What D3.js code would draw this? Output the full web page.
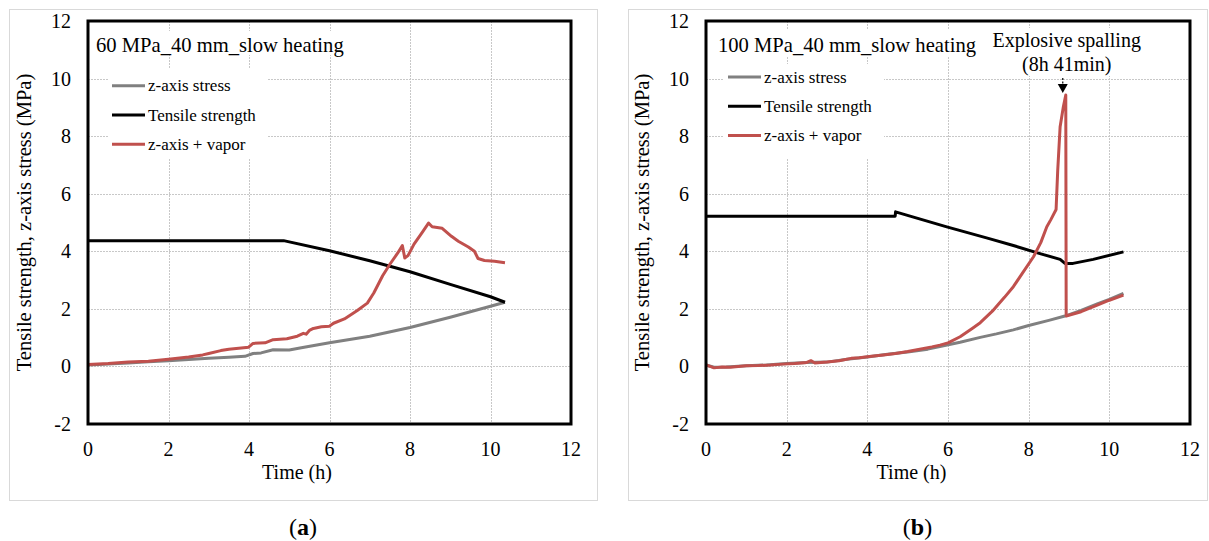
<!DOCTYPE html>
<html>
<head>
<meta charset="utf-8">
<script src="https://cdn.jsdelivr.net/npm/d3@7"></script>
<style>
  body { margin: 0; background: #fff; }
  svg { display: block; }
  text { font-family: "Liberation Serif", "Times New Roman", serif; fill: #000; }
</style>
</head>
<body>
<svg id="chart" width="1209" height="541"></svg>
<script>
// ---- data ----
const xTicks = [0, 2, 4, 6, 8, 10, 12];
const yTicks = [-2, 0, 2, 4, 6, 8, 10, 12];
const seriesNames = ["z-axis stress", "Tensile strength", "z-axis + vapor"];
const seriesColors = ["#808080", "#000000", "#c0504d"];

// (a) 60 MPa
const stressA = [[0,0.05],[0.5,0.08],[1,0.12],[1.5,0.16],[2,0.2],[2.5,0.24],[3,0.28],[3.5,0.32],[3.9,0.35],
  [4.1,0.45],[4.3,0.47],[4.6,0.58],[5.0,0.57],[5.3,0.65],[6,0.82],[7,1.05],[8,1.35],[9,1.71],[10,2.09],[10.36,2.23]];
const strengthA = [[0,4.37],[4.86,4.37],[6,4.02],[7,3.67],[8,3.29],[9,2.85],[10,2.42],[10.36,2.23]];
const vaporA = [[0,0.07],[0.5,0.1],[1,0.15],[1.5,0.18],[2,0.25],[2.5,0.33],[2.85,0.4],[3,0.45],[3.3,0.55],[3.5,0.6],
  [3.99,0.67],[4.1,0.8],[4.4,0.82],[4.6,0.93],[4.94,0.96],[5.2,1.05],[5.35,1.15],[5.42,1.12],[5.5,1.25],[5.6,1.32],[5.8,1.38],[6.0,1.4],
  [6.1,1.5],[6.37,1.65],[6.7,1.95],[6.94,2.2],[7.1,2.55],[7.32,3.15],[7.5,3.55],[7.7,3.95],[7.81,4.2],[7.87,3.77],
  [7.95,3.85],[8.1,4.25],[8.3,4.65],[8.46,4.98],[8.55,4.85],[8.8,4.8],[9.03,4.52],[9.2,4.35],[9.45,4.15],[9.6,4.0],
  [9.69,3.75],[9.85,3.68],[10.1,3.65],[10.36,3.6]];

// (b) 100 MPa
const stressB = [[0,0.05],[0.2,-0.03],[0.5,-0.02],[1,0.02],[1.5,0.05],[2,0.1],[2.5,0.14],[3,0.15],[3.5,0.25],[4,0.33],
  [4.5,0.42],[5,0.5],[5.5,0.6],[5.8,0.69],[6.3,0.84],[6.8,1.01],[7.2,1.13],[7.62,1.27],[8.0,1.42],[8.5,1.6],
  [8.9,1.75],[9.3,1.95],[9.7,2.17],[10.0,2.33],[10.35,2.54]];
const strengthB = [[0,5.22],[4.69,5.22],[4.7,5.37],[5.97,4.85],[7.0,4.45],[7.62,4.2],[8.28,3.92],[8.78,3.72],
  [8.9,3.58],[9.1,3.58],[9.6,3.72],[10.35,3.98]];
const vaporB = [[0,0.05],[0.1,0.0],[0.2,-0.05],[0.4,-0.02],[0.6,-0.03],[0.8,0.0],[1.0,0.02],[1.3,0.03],[1.6,0.05],
  [1.9,0.08],[2.2,0.1],[2.5,0.14],[2.6,0.2],[2.7,0.12],[3.0,0.15],[3.3,0.2],[3.6,0.28],[3.8,0.3],[4.1,0.35],
  [4.4,0.4],[4.7,0.45],[5.0,0.52],[5.3,0.6],[5.6,0.68],[5.8,0.74],[6.0,0.82],[6.3,1.03],[6.6,1.32],[6.8,1.52],
  [7.1,1.92],[7.4,2.4],[7.62,2.77],[7.85,3.25],[8.12,3.81],[8.3,4.3],[8.45,4.85],[8.55,5.1],[8.68,5.45],
  [8.72,6.8],[8.78,8.33],[8.86,9.02],[8.92,9.43],[8.93,1.75],[9.3,1.9],[9.7,2.13],[10.0,2.3],[10.35,2.48]];

const panelTitles = ["60 MPa_40 mm_slow heating", "100 MPa_40 mm_slow heating"];
const panelLetters = ["a", "b"];
const spallLabel = ["Explosive spalling", "(8h 41min)"];
const spallTime = 8.92;

// ---- layout ----
const panels = [
  { series: [stressA, strengthA, vaporA], box: [9, 9, 597, 500], plot: [88, 21, 571, 424],
    titleBox: [92, 31, 258, 24], title: [96, 52], legendBox: [108, 69, 160, 90], legend: [112, 85.7] },
  { series: [stressB, strengthB, vaporB], box: [628, 9, 1207, 500], plot: [706, 21, 1190, 424],
    titleBox: [713, 29, 270, 27], title: [718, 52], legendBox: [724, 64, 160, 94], legend: [728, 77] }
];

const svg = d3.select("#chart");

panels.forEach((p, i) => drawPanel(svg, p, i));

function drawPanel(svg, p, i) {
  const [bx0, by0, bx1, by1] = p.box;
  const [px0, py0, px1, py1] = p.plot;
  const g = svg.append("g");

  g.append("rect")
    .attr("x", bx0 + 0.5).attr("y", by0 + 0.5)
    .attr("width", bx1 - bx0).attr("height", by1 - by0)
    .attr("fill", "#fff").attr("stroke", "#d9d9d9");

  const x = d3.scaleLinear().domain([0, 12]).range([px0, px1]);
  const y = d3.scaleLinear().domain([-2, 12]).range([py1, py0]);

  // gridlines
  g.selectAll("line.vgrid")
    .data(xTicks.slice(1, -1))
    .enter().append("line")
    .attr("x1", d => Math.round(x(d)) + 0.5).attr("x2", d => Math.round(x(d)) + 0.5)
    .attr("y1", py0).attr("y2", py1)
    .attr("stroke", "#c8c8c8").attr("stroke-dasharray", "2,1");
  g.selectAll("line.hgrid")
    .data(yTicks.slice(1, -1))
    .enter().append("line")
    .attr("y1", d => Math.round(y(d)) + 0.5).attr("y2", d => Math.round(y(d)) + 0.5)
    .attr("x1", px0).attr("x2", px1)
    .attr("stroke", "#c8c8c8").attr("stroke-dasharray", "2,1");

  // tick labels
  g.selectAll("text.xt")
    .data(xTicks)
    .enter().append("text")
    .attr("x", d => x(d)).attr("y", py1 + 32)
    .attr("text-anchor", "middle")
    .style("font-size", "20px")
    .text(d => d);
  g.selectAll("text.yt")
    .data(yTicks)
    .enter().append("text")
    .attr("x", px0 - 17).attr("y", d => y(d) + 7)
    .attr("text-anchor", "end")
    .style("font-size", "20px")
    .text(d => d);

  // axis titles
  const cx = (bx0 + bx1) / 2 - 6;
  g.append("text")
    .attr("x", cx).attr("y", 479)
    .attr("text-anchor", "middle")
    .style("font-size", "20px")
    .text("Time (h)");
  g.append("text")
    .attr("transform", `translate(${px0 - 57},${(py0 + py1) / 2}) rotate(-90)`)
    .attr("text-anchor", "middle")
    .style("font-size", "20.5px")
    .text("Tensile strength, z-axis stress (MPa)");

  // title & legend boxes
  g.append("rect")
    .attr("x", p.titleBox[0]).attr("y", p.titleBox[1])
    .attr("width", p.titleBox[2]).attr("height", p.titleBox[3])
    .attr("fill", "#fff");
  g.append("text")
    .attr("x", p.title[0]).attr("y", p.title[1])
    .style("font-size", "20.6px")
    .text(panelTitles[i]);

  g.append("rect")
    .attr("x", p.legendBox[0]).attr("y", p.legendBox[1])
    .attr("width", p.legendBox[2]).attr("height", p.legendBox[3])
    .attr("fill", "#fff");
  const leg = g.selectAll("g.leg")
    .data(seriesNames)
    .enter().append("g")
    .attr("transform", (d, k) => `translate(${p.legend[0]},${p.legend[1] + k * 29.3})`);
  leg.append("line")
    .attr("x1", 0).attr("x2", 33).attr("y1", 0).attr("y2", 0)
    .attr("stroke", (d, k) => seriesColors[k]).attr("stroke-width", 3);
  leg.append("text")
    .attr("x", 36).attr("y", 5.5)
    .style("font-size", "17px")
    .text(d => d);

  // series
  const line = d3.line().x(d => x(d[0])).y(d => y(d[1]));
  [0, 1, 2].forEach(k => {
    g.append("path")
      .datum(p.series[k])
      .attr("d", line)
      .attr("fill", "none")
      .attr("stroke", seriesColors[k])
      .attr("stroke-width", 3)
      .attr("stroke-linejoin", "round");
  });

  // spalling annotation on panel b
  if (i === 1) {
    const sx = x(spallTime) - 3;
    g.append("rect")
      .attr("x", sx - 78).attr("y", 28).attr("width", 160).attr("height", 48)
      .attr("fill", "#fff");
    g.selectAll("text.sp")
      .data(spallLabel)
      .enter().append("text")
      .attr("x", x(spallTime) + 1).attr("y", (d, k) => 46.5 + k * 24)
      .attr("text-anchor", "middle")
      .style("font-size", "20px")
      .text(d => d);
    g.append("line")
      .attr("x1", sx).attr("x2", sx).attr("y1", 78).attr("y2", 85)
      .attr("stroke", "#000").attr("stroke-width", 1.2).attr("stroke-dasharray", "2,1.5");
    g.append("path")
      .attr("d", `M${sx - 5},84 L${sx + 5},84 L${sx},93 Z`)
      .attr("fill", "#000");
  }

  // plot border
  g.append("rect")
    .attr("x", px0).attr("y", py0)
    .attr("width", px1 - px0).attr("height", py1 - py0)
    .attr("fill", "none").attr("stroke", "#000").attr("stroke-width", 3);

  // panel letter
  const lt = g.append("text")
    .attr("x", (bx0 + bx1) / 2).attr("y", 535)
    .attr("text-anchor", "middle")
    .style("font-size", "24px");
  lt.append("tspan").text("(");
  lt.append("tspan").style("font-weight", "bold").text(panelLetters[i]);
  lt.append("tspan").text(")");
}
</script>
</body>
</html>
